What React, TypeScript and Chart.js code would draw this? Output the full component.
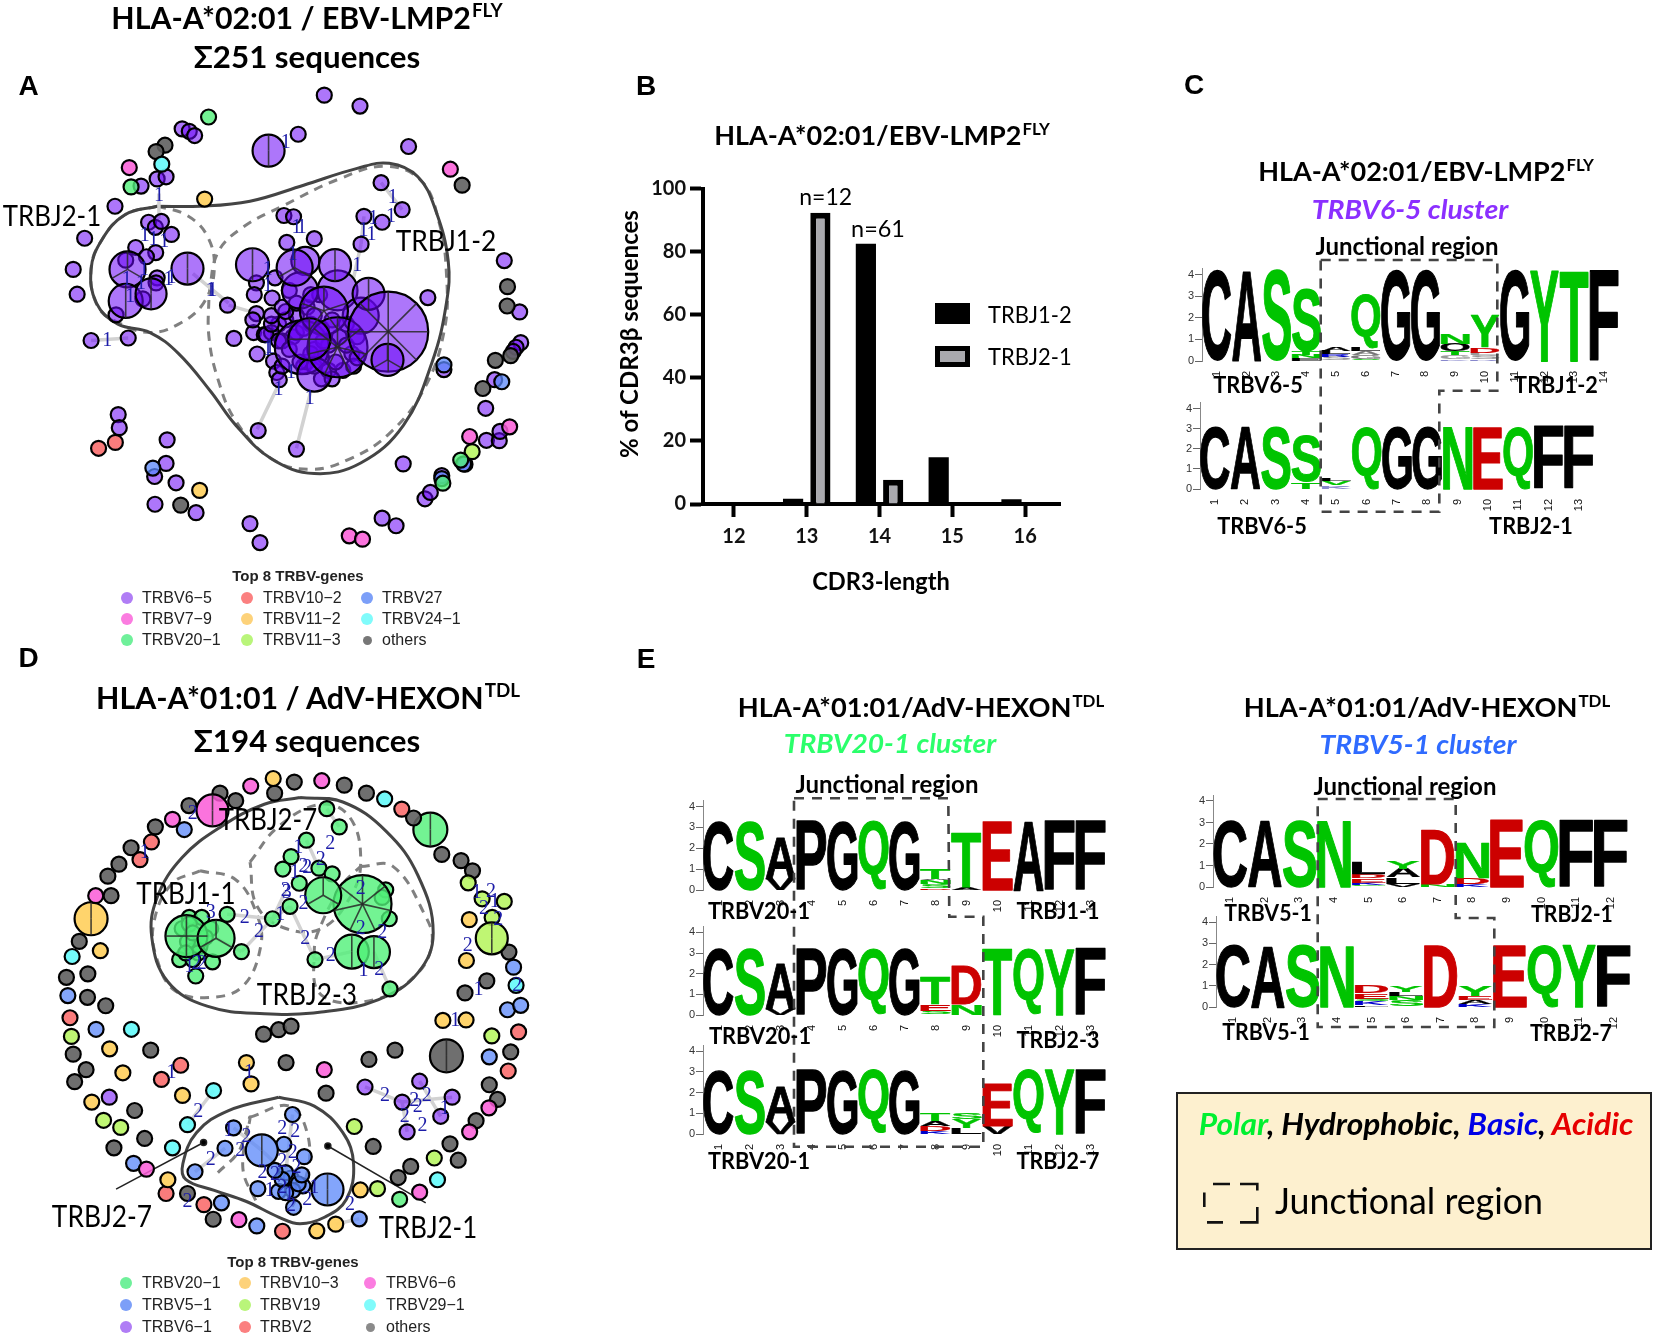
import React, { useEffect, useLayoutEffect, useRef } from "react";
import { Chart, registerables } from "chart.js";
Chart.register(...registerables);

/* ---------- colours ---------- */
const PURPLE = "rgba(105,5,245,0.55)", PINK = "rgba(250,90,215,0.85)", GREEN = "rgba(80,240,120,0.8)", CYAN = "rgba(100,250,250,0.9)";
const YELLOW = "rgba(255,210,100,0.95)", RED = "rgba(250,110,110,0.9)", BLUE = "rgba(90,135,250,0.75)", LIME = "rgba(180,245,90,0.85)", GRAY = "rgba(95,95,95,0.9)";
const K = "#000000", G = "#00c400", R = "#cc0000", B = "#0000cc";

/* ---------- network A : [x, y, radius?, clone segments?] ---------- */
const aV65 = [[908,226],[1008,252],[835,319],[1144,348],[510,306],[530,312],[545,322],[395,442],[440,425],[465,420],[322,490],[237,566],[205,640],[216,699],[1067,434],[1126,498],[1019,514],[1070,528],[1011,580],[795,512],[822,515],[880,567],[803,576],[416,528],[435,540],[452,526],[480,557],[380,588],[436,600],[1412,619],[1455,741],[1198,707],[637,725],[655,804],[720,841],[255,809],[359,803],[325,748],[766,858],[775,885],[782,902],[723,1023],[830,1067],[331,985],[334,1016],[468,1045],[465,1101],[433,1132],[493,1147],[434,1198],[549,1218],[700,1244],[728,1289],[1129,1102],[1070,1231],[1109,1249],[1190,1185],[1205,1170],[1237,1130],[1360,970],[1385,902],[1362,1046],[1398,1047],[1400,1025],[1458,814],[1445,825],[1437,835],[1302,1103],[1243,878],
[410,610],[400,710],[440,660],[437,672],[352,618],[718,672],[712,700],[770,660],[762,708],[718,745],[710,790],[740,795],[708,760],
[780,770],[800,760],[820,800],[860,730],[895,700],[985,840],[900,900],[850,870],[810,690],[760,790],[790,810],[745,795],[860,860],[960,880],[920,880],[990,870],[830,750],[870,700],
[800,740],[830,790],[780,810],[810,830],[870,770],[900,780],[930,760],[880,830],[900,850],[950,800],[970,820],[1000,800],[920,820],[850,780],[840,860],[880,870],[940,860],[760,770],[830,720],[880,750],[970,770],[1000,850],[790,870],[870,840],[905,810],[760,750],[790,730],[930,900],
[752,358,16,2],[525,638,16,2],[357,640,18,3],[352,715,17,2],[423,698,15.5,2],[707,629,16.5,2],[855,620,14,0],[945,690,20,0],[840,690,18,0],[1010,750,18,0],[825,636,18,3],[938,630,16,2],[1032,698,16,2],[845,825,27,0],[880,890,17,0],[907,738,24,5],[945,825,30,7],[866,806,21,4],[1087,788,40,8],[1085,855,16,3]];
const aV79 = [[362,398],[1261,402],[1427,1014],[1315,1037],[978,1273],[1015,1281]];
const aV20 = [[584,278],[367,444],[1240,1148],[1290,1093]];
const aV102 = [[276,1065],[323,1051]];
const aV112 = [[573,473],[559,1165]];
const aV113 = [[1322,1073]];
const aV27 = [[428,1112],[1243,867],[1405,907],[1298,1102],[1237,1137]];
const aV24 = [[453,390]];
const aOther = [[462,345],[437,360],[1294,440],[1421,681],[1420,727],[1430,845],[1387,856],[1352,923],[506,1200]];
const aLinks = [[445,460,445,520],[540,650,640,720],[640,725,720,745],[720,1020,785,905],[830,1065,870,930],[255,809,359,803],[1011,580,990,660],[1067,434,1126,498],[1019,514,1011,580]];
const aHull = [[440,490],[560,490],[700,478],[850,440],[1000,400],[1090,388],[1170,420],[1220,500],[1255,620],[1250,720],[1210,860],[1130,1010],[1010,1100],[880,1125],[760,1090],[660,1010],[590,930],[500,840],[420,790],[330,770],[270,720],[255,640],[285,570],[350,510],[440,490]];
const aDashJ12 = [[585,700],[610,600],[680,540],[790,490],[950,425],[1080,395],[1180,430],[1230,530],[1250,650],[1245,780],[1190,920],[1090,1030],[980,1090],[870,1115],[760,1090],[660,1000],[610,900],[585,800],[585,700]];
const aDashJ21 = [[440,490],[520,510],[580,560],[600,640],[570,720],[500,770],[420,790],[340,770],[275,730],[255,640],[285,570],[350,510],[440,490]];
const aNumbers: [number, number, string][] = [[445,465,"1"],[1100,470,"1"],[1095,515,"1"],[1045,520,"1"],[1018,548,"1"],[1040,558,"1"],[830,540,"1"],[845,540,"1"],[1000,632,"1"],[405,560,"1"],[430,570,"1"],[460,575,"1"],[403,640,"1"],[355,665,"1"],[395,675,"1"],[365,705,"1"],[472,665,"1"],[480,660,"1"],[590,690,"1"],[595,690,"1"],[300,809,"1"],[750,640,"1"],[750,680,"1"],[820,605,"1"],[755,825,"1"],[750,830,"1"],[815,885,"1"],[780,925,"1"],[867,948,"1"],[800,340,"1"]];

/* ---------- network D ---------- */
const dOther = [[616,345],[660,362],[529,373],[769,345],[824,320],[964,327],[1026,345],[1158,401],[1237,483],[1291,497],[1323,520],[435,421],[367,468],[333,505],[302,532],[311,576],[222,679],[246,752],[186,760],[245,805],[296,824],[205,933],[241,968],[209,995],[377,1060],[405,1123],[319,1144],[1425,703],[1363,768],[1302,795],[1430,928],[1370,1002],[1393,1035],[1333,1083],[1260,1135],[1283,1172],[1150,1186],[1115,1211],[1045,1141],[1033,945],[1106,924],[801,952],[913,1021],[422,924],[738,888],[780,878],[815,870],[525,1247],[597,1305],[1250,937,16.5,2]];
const dV66 = [[702,329],[901,317],[483,404],[268,576],[908,968],[1369,1054],[1315,1108],[1175,1244],[669,1306],[410,1192],[595,384,16,2]];
const dV103 = [[765,312],[281,700],[1314,630],[1306,722],[1240,857],[1305,856],[307,921],[344,975],[257,1041],[511,1026],[690,952],[703,1000],[470,1216],[1009,1239],[887,1331],[940,1316],[255,628,16.5,2]];
const dV51 = [[516,427],[190,801],[269,877],[1438,737],[1421,833],[1458,823],[1370,939],[374,1179],[620,1268],[719,1320],[1006,1304],[654,1099],[630,1145],[546,1198],[819,1069],[795,1136],[852,1164],[815,1212],[722,1236],[780,1242],[848,1230],[822,1278],[800,1200],[790,1215],[820,1240],[835,1225],[800,1245],[845,1205],[770,1195],[733,1150,16,2],[917,1238,16,2]];
const dV2 = [[1125,381],[424,455],[392,495],[196,851],[1452,883],[1423,971],[506,958],[452,990],[465,1247],[571,1272],[791,1332]];
const dV291 = [[1077,358],[202,713],[368,877],[598,1015],[525,1092],[483,1144],[1225,1216],[1445,778]];
const dV19 = [[1311,547],[1350,583],[1412,589],[1378,625],[200,893],[290,1082],[338,1098],[1377,892],[992,1096],[1216,1167],[1057,1236],[1377,672,16,2]];
const dV61 = [[306,1030],[1022,1007],[1175,994],[1126,1041],[1266,1030],[1234,1073],[1140,1108]];
const dV201 = [[1119,1260],[915,380],[950,421],[858,451],[815,488],[792,516],[893,514],[930,527],[838,548],[812,600],[763,628],[636,618],[1080,563],[1090,628],[676,702],[882,720],[1092,786],[503,720],[595,725],[548,757],[530,625],[565,625],[1070,580],[540,700],[560,690],[510,650],[530,640],[590,650],[525,680],[540,660],[555,705],[575,670],[540,720],[520,705],[1205,427,17,2],[522,667,21,4],[605,672,18.5,3],[1015,595,29,7],[905,575,18,3],[985,702,17,2],[1047,703,16,2]];
const dLinks = [[636,618,763,628],[676,702,763,628],[763,628,812,600],[812,600,882,720],[882,720,985,702],[858,451,893,514],[1092,786,1047,703],[763,628,800,565],[598,1015,525,1092],[546,1198,630,1145],[1022,1007,1126,1041],[1126,1041,1266,1030],[1140,1108,1126,1041],[1234,1073,1175,994],[940,1316,1006,1304],[915,380,950,421],[605,672,676,702],[654,1099,733,1150],[819,1069,800,1200],[733,1150,815,1212]];
const dHullTop = [[840,355],[960,365],[1080,430],[1170,530],[1213,660],[1170,750],[1060,810],[900,838],[740,842],[580,825],[470,770],[425,670],[440,580],[510,490],[620,420],[740,370],[840,355]];
const dHullLow = [[780,1030],[880,1050],[960,1110],[990,1180],[970,1260],[910,1300],[840,1315],[780,1300],[690,1265],[600,1240],[520,1215],[512,1180],[550,1110],[640,1060],[780,1030]];
const dDashJ27 = [[700,500],[780,420],[900,370],[980,400],[1010,500],[980,580],[900,650],[800,650],[720,600],[700,500]];
const dDashJ23 = [[1010,510],[1100,510],[1190,620],[1210,680],[1170,750],[1050,810],[900,800],[880,700],[900,640],[960,550],[1010,510]];
const dDashJ11 = [[560,520],[660,540],[720,620],[730,690],[680,780],[590,805],[490,790],[440,720],[430,640],[480,550],[560,520]];
const dDashLow1 = [[700,1075],[810,1050],[860,1110],[860,1200],[810,1290]];
const dDashLow2 = [[610,1200],[670,1150],[700,1075],[680,1190],[720,1270]];
const dPointerL = [[325,1237],[570,1132]];
const dPointerR = [[1192,1268],[918,1140]];
const dNumbers: [number, number, string][] = [[925,460,"2"],[835,467,"1"],[898,495,"2"],[850,510,"2"],[860,512,"2"],[825,525,"1"],[800,565,"2"],[803,570,"3"],[850,595,"2"],[685,625,"2"],[725,658,"2"],[785,620,"1"],[855,672,"2"],[926,712,"2"],[1018,745,"1"],[1062,742,"2"],[590,615,"3"],[550,730,"2"],[530,735,"1"],[565,730,"2"],[1010,560,"2"],[1010,650,"2"],[1070,660,"2"],[1375,568,"2"],[1335,570,"1"],[1355,605,"2"],[1385,590,"1"],[1395,630,"2"],[1310,688,"2"],[1340,788,"1"],[1275,857,"1"],[1448,778,"2"],[1078,1027,"2"],[1160,1038,"2"],[1195,1027,"2"],[1170,1052,"2"],[1133,1075,"2"],[1183,1095,"2"],[1245,1055,"1"],[555,1063,"2"],[590,1170,"2"],[540,392,"2"],[405,480,"1"],[480,975,"1"],[697,975,"1"],[525,1265,"2"],[980,1272,"2"],[790,1100,"2"],[827,1108,"2"],[690,1120,"2"],[673,1150,"2"],[820,1155,"2"],[790,1175,"2"],[830,1190,"2"],[735,1200,"2"],[770,1205,"2"],[755,1240,"1"],[790,1235,"2"],[810,1250,"1"],[860,1262,"2"],[880,1235,"1"],[815,1275,"2"],[640,1105,"1"]];

/* ---------- panel B ---------- */
const cdr3Lengths = [12, 13, 14, 15, 16];
const trbj12Pct = [0, 1.7, 82.5, 14.8, 1.5];
const trbj21Pct = [0, 92.3, 7.7, 0, 0];

/* ---------- sequence logos : [letter, bits, colour], bottom to top ---------- */
type L = [string, number, string];
const logoC1: L[][] = [[["C",4.2,K]],[["A",4.2,K]],[["S",4.2,G]],[["E",.14,K],["N",.16,G],["T",.18,G],["S",2.87,G]],[["S",.2,"#999"],["R",.12,B],["L",.15,K],["A",.18,K]],[["S",.1,G],["G",.2,"#777"],["A",.15,"#777"],["L",.15,K],["Q",2.45,G]],[["G",4.2,K]],[["G",4.2,K]],[["K",.1,"#88c"],["G",.2,"#999"],["T",.15,G],["O",.35,K],["N",.5,G]],[["R",.08,"#88c"],["S",.18,"#999"],["L",.12,"#999"],["D",.25,R],["Y",1.5,G]],[["G",4.2,K]],[["Y",4.2,G]],[["T",4.2,G]],[["F",4.2,K]]];
const logoC2: L[][] = [[["C",3.1,K]],[["A",3.1,K]],[["S",3.1,G]],[["T",.35,G],["S",2.3,G]],[["K",.12,"#88c"],["R",.08,"#88c"],["V",.2,G],["L",.15,K]],[["Q",3.1,G]],[["G",3.1,K]],[["G",3.1,K]],[["N",3.1,G]],[["E",3.1,R]],[["Q",3.1,G]],[["F",3.1,K]],[["F",3.1,K]]];
const logoE1: L[][] = [[["C",3.3,K]],[["S",3.3,G]],[["V",.55,K],["A",2,K]],[["P",3.3,K]],[["G",3.3,K]],[["Q",3.3,G]],[["G",3.3,K]],[["D",.08,R],["S",.2,G],["N",.2,G],["A",.07,K],["T",.5,G]],[["A",.14,K],["T",2.6,G]],[["E",3.3,R]],[["A",3.3,K]],[["F",3.3,K]],[["F",3.3,K]]];
const logoE2: L[][] = [[["C",3.2,K]],[["S",3.2,G]],[["V",.3,K],["A",2.2,K]],[["P",3.2,K]],[["G",3.2,K]],[["Q",3.2,G]],[["G",3.2,K]],[["S",.2,G],["E",.33,R],["T",1.33,G]],[["N",.55,G],["D",1.85,R]],[["T",3.2,G]],[["Q",3.2,G]],[["Y",3.2,G]],[["F",3.2,K]]];
const logoE3: L[][] = [[["C",3.08,K]],[["S",3.08,G]],[["V",.6,K],["A",1.7,K]],[["P",3.08,K]],[["G",3.08,K]],[["Q",3.08,G]],[["G",3.08,K]],[["K",.15,B],["D",.25,R],["A",.25,K],["T",.38,G]],[["L",.3,K],["Y",.4,G],["S",.33,G]],[["V",.4,K],["E",2.05,R]],[["Q",3.08,G]],[["Y",3.08,G]],[["F",3.08,K]]];
const logoE4: L[][] = [[["C",3.1,K]],[["A",3.1,K]],[["S",3.1,G]],[["N",3.1,G]],[["G",.1,G],["K",.1,B],["E",.2,R],["D",.2,R],["L",.55,K]],[["V",.15,K],["L",.3,K],["A",.4,K],["Y",.35,G]],[["N",.15,G],["D",2.5,R]],[["K",.12,B],["D",.3,R],["N",1.6,G]],[["E",3.1,R]],[["Q",3.1,G]],[["F",3.1,K]],[["F",3.1,K]]];
const logoE5: L[][] = [[["C",2.92,K]],[["A",2.92,K]],[["S",2.92,G]],[["N",2.92,G]],[["L",.1,K],["K",.2,B],["S",.1,G],["E",.25,R],["D",.35,R]],[["S",.35,G],["N",.15,G],["L",.2,K],["Y",.3,G]],[["D",2.92,R]],[["K",.15,B],["A",.2,K],["E",.15,R],["Y",.5,G]],[["E",2.92,R]],[["Q",2.92,G]],[["Y",2.92,G]],[["F",2.92,K]]];

/* ---------- chart factories ---------- */
const nodeSet = (nodes: number[][], color: string) => ({
  type: "bubble", order: 1, clip: false, backgroundColor: color, borderColor: "#000", borderWidth: 2.2,
  data: nodes.map((n) => ({ x: n[0], y: n[1], r: n[2] ?? 7.5, k: n[3] ?? 0 })),
});
const lineSet = (pts: number[][], color: string, width: number, dash: number[], order: number, tension: number) => ({
  type: "scatter", showLine: true, order, clip: false, tension, borderColor: color, borderWidth: width, borderDash: dash,
  pointRadius: 0, data: pts.map((p) => ({ x: p[0], y: p[1] })),
});
const linkSets = (links: number[][]) => links.map((l) => lineSet([[l[0], l[1]], [l[2], l[3]]], "#d2d2d2", 3.5, [], 10, 0));

const overlayPlugin = (numbers: [number, number, string][]) => ({
  id: "networkOverlay",
  afterDatasetsDraw(chart: any) {
    const { ctx, scales } = chart;
    ctx.save();
    ctx.strokeStyle = "rgba(40,40,40,0.85)";
    ctx.lineWidth = 1.6;
    chart.data.datasets.forEach((ds: any) => {
      if (ds.type !== "bubble") return;
      ds.data.forEach((d: any) => {
        if (!d.k) return;
        const cx = scales.x.getPixelForValue(d.x), cy = scales.y.getPixelForValue(d.y);
        for (let s = 0; s < d.k; s++) {
          const a = -Math.PI / 2 + (s * 2 * Math.PI) / d.k;
          ctx.beginPath();
          ctx.moveTo(cx, cy);
          ctx.lineTo(cx + Math.cos(a) * d.r, cy + Math.sin(a) * d.r);
          ctx.stroke();
        }
      });
    });
    ctx.fillStyle = "#1c1ca8";
    ctx.font = '20px "Liberation Serif"';
    ctx.textAlign = "center";
    ctx.textBaseline = "middle";
    numbers.forEach(([x, y, t]) => ctx.fillText(t, scales.x.getPixelForValue(x), scales.y.getPixelForValue(y)));
    ctx.restore();
  },
});

const networkConfig = (datasets: any[], numbers: [number, number, string][]) => () => ({
  type: "bubble",
  data: { datasets },
  plugins: [overlayPlugin(numbers)],
  options: {
    animation: false, responsive: false, devicePixelRatio: 1,
    layout: { padding: 0, autoPadding: false },
    plugins: { legend: { display: false }, tooltip: { enabled: false } },
    scales: {
      x: { type: "linear", min: 0, max: 1568, display: false },
      y: { type: "linear", min: 0, max: 1568, reverse: true, display: false },
    },
  },
});

const configA = networkConfig(
  [
    nodeSet(aV79, PINK), nodeSet(aV20, GREEN), nodeSet(aV102, RED), nodeSet(aV112, YELLOW), nodeSet(aV113, LIME), nodeSet(aV27, BLUE), nodeSet(aV24, CYAN), nodeSet(aOther, GRAY), nodeSet(aV65, PURPLE),
    ...linkSets(aLinks),
    lineSet(aHull, "#444", 3, [], 20, 0.4), lineSet(aDashJ12, "#808080", 3, [9, 7], 21, 0.4), lineSet(aDashJ21, "#808080", 3, [9, 7], 21, 0.4),
  ],
  aNumbers
);
const configD = networkConfig(
  [
    nodeSet(dV66, PINK), nodeSet(dV103, YELLOW), nodeSet(dV2, RED), nodeSet(dV291, CYAN), nodeSet(dV19, LIME), nodeSet(dV61, PURPLE), nodeSet(dOther, GRAY), nodeSet(dV51, BLUE), nodeSet(dV201, GREEN),
    ...linkSets(dLinks),
    lineSet(dHullTop, "#444", 3, [], 20, 0.4), lineSet(dHullLow, "#444", 3, [], 20, 0.4),
    lineSet(dDashJ27, "#808080", 3, [9, 7], 21, 0.4), lineSet(dDashJ23, "#808080", 3, [9, 7], 21, 0.4), lineSet(dDashJ11, "#808080", 3, [9, 7], 21, 0.4), lineSet(dDashLow1, "#808080", 3, [9, 7], 21, 0.4), lineSet(dDashLow2, "#808080", 3, [9, 7], 21, 0.4),
    { ...lineSet(dPointerL, "#222", 1.5, [], 2, 0), pointRadius: [0, 3], backgroundColor: "#000" },
    { ...lineSet(dPointerR, "#222", 1.5, [], 2, 0), pointRadius: [0, 3], backgroundColor: "#000" },
  ],
  dNumbers
);

const configB = () => ({
  type: "bar",
  data: {
    datasets: [
      { label: "TRBJ1-2", backgroundColor: "#000", borderWidth: 0, data: cdr3Lengths.map((x, i) => ({ x, y: trbj12Pct[i] })) },
      { label: "TRBJ2-1", backgroundColor: "#a9a9ae", borderColor: "#000", borderWidth: 6, data: cdr3Lengths.map((x, i) => ({ x, y: trbj21Pct[i] })) },
    ],
  },
  options: {
    animation: false, responsive: false, devicePixelRatio: 1,
    categoryPercentage: 0.75, barPercentage: 0.74,
    layout: { padding: { left: 0, right: 60, top: 128.5, bottom: 0 } },
    plugins: { legend: { display: false }, tooltip: { enabled: false } },
    scales: {
      x: {
        type: "linear", min: 11.575, max: 16.479, offset: false,
        afterBuildTicks: (s: any) => { s.ticks = cdr3Lengths.map((value) => ({ value })); },
        afterFit: (s: any) => { s.height = 116; },
        grid: { offset: false, drawOnChartArea: false, tickLength: 13, tickWidth: 4, tickColor: "#000" },
        border: { color: "#000", width: 4 },
        ticks: { font: { family: "Lato", weight: "bold", size: 20 }, color: "#111", padding: 8, maxRotation: 0, callback: (v: any) => String(v) },
      },
      y: {
        min: 0, max: 100, position: "left",
        afterFit: (s: any) => { s.width = 103; },
        grid: { drawOnChartArea: false, tickLength: 13, tickWidth: 4, tickColor: "#000" },
        border: { color: "#000", width: 4 },
        ticks: { stepSize: 20, font: { family: "Lato", weight: "bold", size: 20 }, color: "#111", padding: 4 },
      },
    },
  },
});

const glyphPlugin = (stacks: L[][]) => ({
  id: "logoGlyphs",
  afterDatasetsDraw(chart: any) {
    const { ctx } = chart;
    chart.data.datasets.forEach((_: any, layer: number) => {
      chart.getDatasetMeta(layer).data.forEach((bar: any, pos: number) => {
        const item = stacks[pos][layer];
        if (!item) return;
        const p = bar.getProps(["x", "y", "base", "width"], true);
        const h = Math.abs(p.base - p.y), w = p.width * 0.96;
        ctx.save();
        ctx.font = 'bold 100px "Liberation Sans"';
        const m = ctx.measureText(item[0]);
        const gw = m.actualBoundingBoxRight + m.actualBoundingBoxLeft, gh = m.actualBoundingBoxAscent + m.actualBoundingBoxDescent;
        ctx.translate(p.x - w / 2, p.y);
        ctx.scale(w / gw, h / gh);
        ctx.fillStyle = item[2];
        ctx.strokeStyle = item[2];
        ctx.lineWidth = 1.5;
        ctx.lineJoin = "round";
        ctx.textBaseline = "alphabetic";
        ctx.fillText(item[0], m.actualBoundingBoxLeft, m.actualBoundingBoxAscent);
        ctx.strokeText(item[0], m.actualBoundingBoxLeft, m.actualBoundingBoxAscent);
        ctx.restore();
      });
    });
  },
});

const logoConfig = (stacks: L[][], yMax: number) => () => {
  const layers = Math.max(...stacks.map((s) => s.length));
  const datasets = Array.from({ length: layers }, (_, layer) => ({
    backgroundColor: "transparent", borderWidth: 0, barPercentage: 1, categoryPercentage: 1,
    data: stacks.map((s) => (s[layer] ? s[layer][1] : 0)),
  }));
  return {
    type: "bar",
    data: { labels: stacks.map((_, i) => String(i + 1)), datasets },
    plugins: [glyphPlugin(stacks)],
    options: {
      animation: false, responsive: false, devicePixelRatio: 1,
      layout: { padding: { top: 5, right: 5, left: 0, bottom: 0 } },
      plugins: { legend: { display: false }, tooltip: { enabled: false } },
      scales: {
        x: {
          stacked: true,
          afterFit: (s: any) => { s.height = 30; },
          grid: { display: false }, border: { display: false },
          ticks: { autoSkip: false, minRotation: 90, maxRotation: 90, font: { family: "Liberation Sans", size: 11 }, color: "#111", padding: 2 },
        },
        y: {
          stacked: true, min: 0, max: yMax,
          afterFit: (s: any) => { s.width = 40; },
          afterBuildTicks: (s: any) => { s.ticks = [0, 1, 2, 3, 4].map((value) => ({ value })); },
          grid: { drawOnChartArea: false, tickLength: 7, color: "#666" },
          border: { color: "#888", width: 1 },
          ticks: { font: { family: "Liberation Sans", size: 11 }, color: "#333", padding: 1 },
        },
      },
    },
  };
};

/* ---------- layout tables ---------- */
const logoBoxes: { stacks: L[][]; left: number; pos: number; base: number; unit: number; top: number }[] = [
  { stacks: logoC1, left: 1201.7, pos: 29.8, base: 360.7, unit: 22.1, top: 266 },
  { stacks: logoC2, left: 1200, pos: 30.3, base: 489.3, unit: 20.8, top: 400 },
  { stacks: logoE1, left: 703, pos: 31, base: 889.7, unit: 21.4, top: 798 },
  { stacks: logoE2, left: 703, pos: 31, base: 1015, unit: 21.25, top: 924 },
  { stacks: logoE3, left: 703, pos: 31, base: 1134.3, unit: 21.4, top: 1043 },
  { stacks: logoE4, left: 1213.3, pos: 34.6, base: 886.5, unit: 22, top: 793 },
  { stacks: logoE5, left: 1215.7, pos: 34.6, base: 1007, unit: 21.8, top: 914 },
];

type TP = { x: number; y: number; w?: number; size: number; bold?: boolean; italic?: boolean; font?: string; color?: string; sup?: string; rot?: number; left?: boolean; children?: any };
function T({ x, y, w, size, bold, italic, font, color, sup, rot, left, children }: TP) {
  const ref = useRef<HTMLDivElement>(null);
  const base = (left ? "translate(0,-50%)" : "translate(-50%,-50%)") + (rot ? ` rotate(${rot}deg)` : "");
  useLayoutEffect(() => {
    if (w && ref.current) ref.current.style.transform = `${base} scaleX(${w / ref.current.offsetWidth})`;
  }, []);
  return (
    <div ref={ref} style={{ position: "absolute", left: x, top: y, transform: base, transformOrigin: left ? "left center" : "center", whiteSpace: "nowrap", lineHeight: 1.2, fontFamily: font || "Lato", fontSize: size, fontWeight: bold ? 700 : 400, fontStyle: italic ? "italic" : "normal", color: color || "#000" }}>
      {children}
      {sup ? <sup style={{ fontSize: "0.62em", lineHeight: 0, verticalAlign: "0.62em", marginLeft: 1 }}>{sup}</sup> : null}
    </div>
  );
}

function ChartBox({ x, y, w, h, config }: { x: number; y: number; w: number; h: number; config: () => any }) {
  const ref = useRef<HTMLCanvasElement>(null);
  useEffect(() => {
    const c = new Chart(ref.current as any, config());
    return () => c.destroy();
  }, []);
  return <canvas ref={ref} width={w} height={h} style={{ position: "absolute", left: x, top: y, width: w, height: h }} />;
}

const legendA = [["TRBV6\u22125", "#b07df5", 0], ["TRBV7\u22129", "#fb7ce0", 0], ["TRBV20\u22121", "#6ff09a", 0], ["TRBV10\u22122", "#fb8080", 1], ["TRBV11\u22122", "#fdd27a", 1], ["TRBV11\u22123", "#b9f57a", 1], ["TRBV27", "#7c9ff8", 2], ["TRBV24\u22121", "#80fbfb", 2], ["others", "#777", 2]] as [string, string, number][];
const legendD = [["TRBV20\u22121", "#6ff09a", 0], ["TRBV5\u22121", "#7c9ff8", 0], ["TRBV6\u22121", "#b07df5", 0], ["TRBV10\u22123", "#fdd27a", 1], ["TRBV19", "#b9f57a", 1], ["TRBV2", "#fb8080", 1], ["TRBV6\u22126", "#fb7ce0", 2], ["TRBV29\u22121", "#80fbfb", 2], ["others", "#8a8a8a", 2]] as [string, string, number][];

function GeneLegend({ items, markers, texts, rows }: { items: [string, string, number][]; markers: number[]; texts: number[]; rows: number[] }) {
  return (
    <>
      {items.map(([name, color, col], i) => {
        const row = i % 3;
        const size = name === "others" ? 9 : 12;
        return (
          <React.Fragment key={name}>
            <div style={{ position: "absolute", left: markers[col] - size / 2, top: rows[row] - size / 2, width: size, height: size, borderRadius: "50%", background: color }} />
            <T x={texts[col]} y={rows[row]} size={16} font="Liberation Sans" color="#222" left>{name}</T>
          </React.Fragment>
        );
      })}
    </>
  );
}

const DASH = { fill: "none", stroke: "#444", strokeWidth: 2.6, strokeDasharray: "10 8" };

export default function App() {
  return (
    <div style={{ position: "absolute", left: 0, top: 0, width: 1654, height: 1336, overflow: "hidden", background: "#fff" }}>
      <ChartBox x={0} y={0} w={560} h={660} config={configA} />
      <ChartBox x={0} y={640} w={560} h={696} config={configD} />
      <ChartBox x={600} y={60} w={520} h={560} config={configB} />
      {logoBoxes.map((b, i) => (
        <ChartBox key={i} x={b.left - 40} y={b.top - 5} w={Math.round(b.stacks.length * b.pos + 45)} h={Math.round(b.base - b.top + 35)} config={logoConfig(b.stacks, (b.base - b.top) / b.unit)} />
      ))}

      <svg width={1654} height={1336} style={{ position: "absolute", left: 0, top: 0, pointerEvents: "none" }}>
        <polygon {...DASH} points="1320.7,260 1497.3,260 1497.3,390.7 1439.3,390.7 1439.3,511.7 1320.7,511.7" />
        <polygon {...DASH} points="794,798.3 948.3,798.3 949.3,916.7 983.3,916.7 983.3,1146.7 794,1146.7" />
        <polygon {...DASH} points="1317.7,799 1455.7,799 1455.7,918 1494.3,918 1494.3,1027 1317.7,1027" />
      </svg>

      {/* panel letters */}
      <T x={28.6} y={86} size={28} bold font="Liberation Sans">A</T>
      <T x={646} y={86} size={28} bold font="Liberation Sans">B</T>
      <T x={1194} y={85} size={28} bold font="Liberation Sans">C</T>
      <T x={28.6} y={658} size={28} bold font="Liberation Sans">D</T>
      <T x={646} y={659} size={28} bold font="Liberation Sans">E</T>

      {/* panel A */}
      <T x={307} y={18} w={391} size={31} bold sup="FLY">HLA-A*02:01 / EBV-LMP2</T>
      <T x={307} y={57} w={227} size={31} bold>Σ251 sequences</T>
      <T x={52} y={215} w={98} size={29}>TRBJ2-1</T>
      <T x={446} y={240} w={100} size={29}>TRBJ1-2</T>
      <T x={298} y={576} size={15} bold font="Liberation Sans" color="#222">Top 8 TRBV-genes</T>
      <GeneLegend items={legendA} markers={[127, 247, 367]} texts={[142, 263, 382]} rows={[598, 619, 640]} />

      {/* panel B */}
      <T x={882} y={135} w={336} size={27} bold sup="FLY">HLA-A*02:01/EBV-LMP2</T>
      <T x={825.7} y={197} w={53} size={23}>n=12</T>
      <T x={877.7} y={229} w={54} size={23}>n=61</T>
      <T x={628} y={334} w={248} size={25} bold rot={-90}>% of CDR3β sequences</T>
      <T x={880.7} y={580} w={138} size={25} bold>CDR3-length</T>
      <div style={{ position: "absolute", left: 935, top: 303, width: 35, height: 21, background: "#000" }} />
      <div style={{ position: "absolute", left: 935, top: 346, width: 35, height: 21, background: "#a9a9ae", border: "5px solid #000", boxSizing: "border-box" }} />
      <T x={988} y={315} w={84} size={23} left>TRBJ1-2</T>
      <T x={988} y={357} w={84} size={23} left>TRBJ2-1</T>

      {/* panel C */}
      <T x={1426} y={171} w={336} size={27} bold sup="FLY">HLA-A*02:01/EBV-LMP2</T>
      <T x={1410} y={209} w={197} size={27} bold italic color="#8b2fff">TRBV6-5 cluster</T>
      <T x={1407} y={246} w={183} size={24} bold>Junctional region</T>
      <T x={1258} y={385} w={90} size={23} bold>TRBV6-5</T>
      <T x={1556} y={385} w={84} size={23} bold>TRBJ1-2</T>
      <T x={1262} y={526} w={90} size={23} bold>TRBV6-5</T>
      <T x={1531} y={526} w={84} size={23} bold>TRBJ2-1</T>

      {/* panel D */}
      <T x={308} y={698} w={424} size={31} bold sup="TDL">HLA-A*01:01 / AdV-HEXON</T>
      <T x={307} y={741} w={227} size={31} bold>Σ194 sequences</T>
      <T x={268} y={818} w={98} size={30}>TRBJ2-7</T>
      <T x={186} y={892} w={99} size={30}>TRBJ1-1</T>
      <T x={307} y={993} w={100} size={30}>TRBJ2-3</T>
      <T x={102} y={1215} w={100} size={30}>TRBJ2-7</T>
      <T x={428} y={1226} w={98} size={30}>TRBJ2-1</T>
      <T x={293} y={1262} size={15} bold font="Liberation Sans" color="#222">Top 8 TRBV-genes</T>
      <GeneLegend items={legendD} markers={[126, 245, 370]} texts={[142, 260, 386]} rows={[1283, 1305, 1327]} />

      {/* panel E */}
      <T x={921} y={707} w={366} size={27} bold sup="TDL">HLA-A*01:01/AdV-HEXON</T>
      <T x={890} y={743} w={213} size={27} bold italic color="#2bff6b">TRBV20-1 cluster</T>
      <T x={887} y={784} w={183} size={24} bold>Junctional region</T>
      <T x={759} y={911} w={102} size={23} bold>TRBV20-1</T>
      <T x={1058} y={911} w={83} size={23} bold>TRBJ1-1</T>
      <T x={760} y={1036} w={102} size={23} bold>TRBV20-1</T>
      <T x={1058} y={1040} w={83} size={23} bold>TRBJ2-3</T>
      <T x={759} y={1161} w={102} size={23} bold>TRBV20-1</T>
      <T x={1058} y={1161} w={83} size={23} bold>TRBJ2-7</T>

      <T x={1427} y={707} w={366} size={27} bold sup="TDL">HLA-A*01:01/AdV-HEXON</T>
      <T x={1418} y={743.6} w={197} size={27} bold italic color="#2f6bff">TRBV5-1 cluster</T>
      <T x={1405} y={785.5} w={183} size={24} bold>Junctional region</T>
      <T x={1268} y={913} w={88} size={23} bold>TRBV5-1</T>
      <T x={1572} y={914} w={82} size={23} bold>TRBJ2-1</T>
      <T x={1266} y={1031.5} w={88} size={23} bold>TRBV5-1</T>
      <T x={1571} y={1033} w={82} size={23} bold>TRBJ2-7</T>

      {/* colour key */}
      <div style={{ position: "absolute", left: 1176, top: 1091.5, width: 476, height: 158, boxSizing: "border-box", background: "#fdf0cf", border: "2.5px solid #222" }} />
      <T x={1415.5} y={1123} w={435} size={30} bold italic>
        <span style={{ color: "#00f030" }}>Polar</span>, <span>Hydrophobic</span>, <span style={{ color: "#0000e6" }}>Basic</span>, <span style={{ color: "#e60000" }}>Acidic</span>
      </T>
      <T x={1275} y={1200} w={268} size={37} left>Junctional region</T>
      <svg width={1654} height={1336} style={{ position: "absolute", left: 0, top: 0, pointerEvents: "none" }}>
        <path d="M1204.3 1192.5V1207M1213 1184H1230M1240 1184H1257.3V1190.6M1207 1222.4H1223M1240 1222.4H1257.3V1207" fill="none" stroke="#111" strokeWidth={2.6} />
      </svg>
    </div>
  );
}
